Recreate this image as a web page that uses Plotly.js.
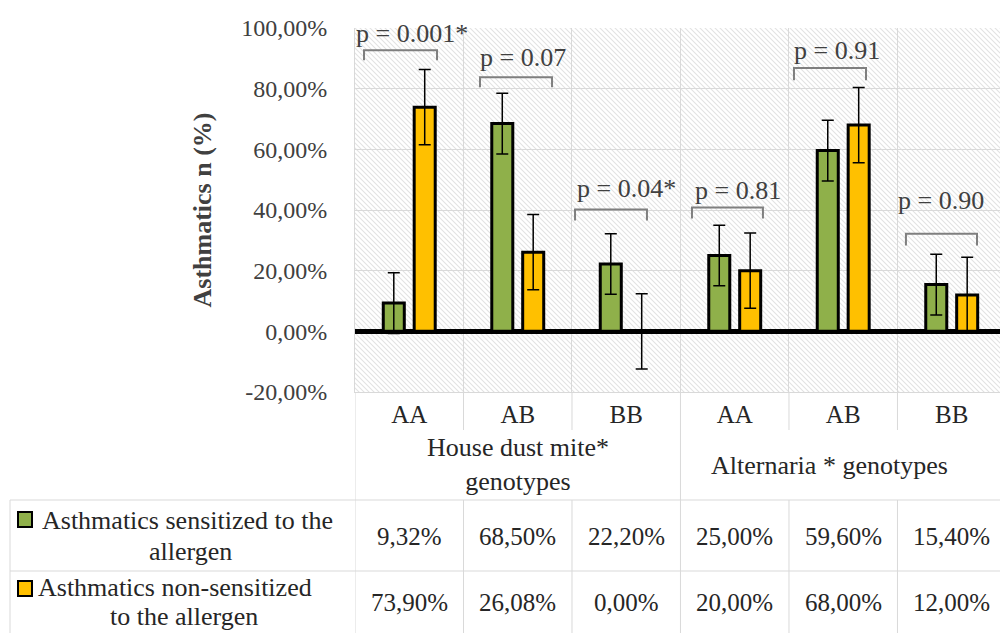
<!DOCTYPE html>
<html>
<head>
<meta charset="utf-8">
<script src="https://cdn.plot.ly/plotly-3.0.1.min.js"></script>
<style>
  html, body { margin: 0; padding: 0; background: #ffffff; }
  #chart { width: 1000px; height: 633px; }
</style>
</head>
<body>
<div id="chart"></div>
<script>
// ---------- data ----------
const genotypes = ['AA', 'AB', 'BB', 'AA', 'AB', 'BB'];
const groupLabels = ['House dust mite*<br>genotypes', 'Alternaria * genotypes'];
const seriesNames = ['Asthmatics sensitized to the<br>allergen', 'Asthmatics non-sensitized<br>to the allergen'];
const sensitized = [9.32, 68.50, 22.20, 25.00, 59.60, 15.40];
const nonSensitized = [73.90, 26.08, 0.00, 20.00, 68.00, 12.00];
const errSensitized = [10, 10, 10, 10, 10, 10];
const errNonSensitized = [12.4, 12.4, 12.4, 12.4, 12.4, 12.4];
const pValues = ['p = 0.001*', 'p = 0.07', 'p = 0.04*', 'p = 0.81', 'p = 0.91', 'p = 0.90'];
const yTicks = [-20, 0, 20, 40, 60, 80, 100];

// ---------- styling / layout constants ----------
const FONT = '"Liberation Serif", "Times New Roman", serif';
const GREEN = '#8FB04A';
const ORANGE = '#FFC000';
const GRID = '#d9d9d9';
const colors = [GREEN, ORANGE];

// bracket geometry: [left offset, right offset, top y, leg y] per category
const bracketGeom = [
  [-0.417, 0.256, 92.7, 89.4],
  [-0.348, 0.316, 83.8, 80.5],
  [-0.472, 0.191, 40.2, 36.5],
  [-0.394, 0.260, 40.8, 37.2],
  [-0.454, 0.210, 86.8, 82.8],
  [-0.422, 0.233, 32.2, 28.3]
];
// p-label centre: [x offset, y]
const pLabelPos = [
  [0.021, 98.3], [0.053, 90.4], [0.002, 47.1], [0.030, 46.4], [-0.058, 92.7], [-0.099, 43.1]
];

const idx = genotypes.map((_, i) => i);
const fmt = v => v.toFixed(2).replace('.', ',') + '%';

// background hatch as svg image
const hatchSvg =
  "<svg xmlns='http://www.w3.org/2000/svg' width='645' height='364'>" +
  "<defs><pattern id='h' width='5' height='5' patternUnits='userSpaceOnUse'>" +
  "<path d='M0,0 L5,5 M-1,4 L1,6 M4,-1 L6,1' stroke='#e2e2e2' stroke-width='1.1'/>" +
  "</pattern></defs><rect width='645' height='364' fill='#ffffff'/>" +
  "<rect width='645' height='364' fill='url(#h)'/></svg>";
const hatchUri = 'data:image/svg+xml;charset=utf-8,' + encodeURIComponent(hatchSvg);

const traces = [
  {
    type: 'bar', name: seriesNames[0], x: idx, y: sensitized,
    marker: { color: GREEN, line: { color: '#000000', width: 3 } },
    error_y: { type: 'data', array: errSensitized, visible: true, color: '#000000', thickness: 1.5, width: 6 },
    hoverinfo: 'y'
  },
  {
    type: 'bar', name: seriesNames[1], x: idx, y: nonSensitized,
    marker: { color: ORANGE, line: { color: '#000000', width: 3 } },
    error_y: { type: 'data', array: errNonSensitized, visible: true, color: '#000000', thickness: 1.5, width: 6 },
    hoverinfo: 'y'
  }
];

// layout geometry in paper fractions (plot area = paper 0..1)
const PX = px => (px - 355) / 645;      // page x -> paper x
const PY = py => (392 - py) / 364;      // page y -> paper y

const shapes = [];
const annotations = [];

// brackets and p-values
pValues.forEach((t, i) => {
  const g = bracketGeom[i];
  const x1 = i + g[0], x2 = i + g[1];
  shapes.push({
    type: 'path', xref: 'x', yref: 'y',
    path: `M ${x1},${g[3]} L ${x1},${g[2]} L ${x2},${g[2]} L ${x2},${g[3]}`,
    line: { color: '#7f7f7f', width: 2 }
  });
  annotations.push({
    xref: 'x', yref: 'y', x: i + pLabelPos[i][0], y: pLabelPos[i][1],
    text: t, showarrow: false, xanchor: 'center', yanchor: 'middle',
    font: { family: FONT, size: 26, color: '#404040' }
  });
});

// header dividers below the plot
[0.5, 1.5, 3.5, 4.5].forEach(b => shapes.push({
  type: 'line', xref: 'x', yref: 'paper', x0: b, x1: b, y0: 0, y1: PY(430),
  line: { color: GRID, width: 1 }
}));
[-0.5, 2.5].forEach(b => shapes.push({
  type: 'line', xref: 'x', yref: 'paper', x0: b, x1: b, y0: 0, y1: PY(500),
  line: { color: GRID, width: 1 }
}));
// table grid
[-0.5, 0.5, 1.5, 2.5, 3.5, 4.5].forEach(b => shapes.push({
  type: 'line', xref: 'x', yref: 'paper', x0: b, x1: b, y0: PY(500), y1: PY(640),
  line: { color: GRID, width: 1 }
}));
shapes.push({ type: 'line', xref: 'paper', yref: 'paper', x0: PX(10), x1: PX(10), y0: PY(500), y1: PY(640), line: { color: GRID, width: 1 } });
[500, 571].forEach(py => shapes.push({
  type: 'line', xref: 'paper', yref: 'paper', x0: PX(10), x1: 1, y0: PY(py), y1: PY(py),
  line: { color: GRID, width: 1 }
}));

// group labels
annotations.push({
  xref: 'x', yref: 'paper', x: 1, y: PY(464.5), text: groupLabels[0], showarrow: false,
  xanchor: 'center', yanchor: 'middle', align: 'center',
  font: { family: FONT, size: 26, color: '#262626' }
});
annotations.push({
  xref: 'x', yref: 'paper', x: 3.87, y: PY(465), text: groupLabels[1], showarrow: false,
  xanchor: 'center', yanchor: 'middle', align: 'center',
  font: { family: FONT, size: 26, color: '#262626' }
});

// data table rows
const rowCentres = [536, 602];
const line1Y = [520, 587];
const line2Y = [551, 616];
const line1X = [40, 36];
const line2X = [190, 184];
const keyY = [[512, 527], [581, 596]];
[sensitized, nonSensitized].forEach((series, r) => {
  series.forEach((v, i) => annotations.push({
    xref: 'x', yref: 'paper', x: i, y: PY(rowCentres[r]), text: fmt(v), showarrow: false,
    xanchor: 'center', yanchor: 'middle',
    font: { family: FONT, size: 25, color: '#262626' }
  }));
  const parts = seriesNames[r].split('<br>');
  annotations.push({
    xref: 'paper', yref: 'paper', x: PX(line1X[r]), y: PY(line1Y[r]),
    text: parts[0], showarrow: false, xanchor: 'left', yanchor: 'middle',
    font: { family: FONT, size: 26, color: '#262626' }
  });
  annotations.push({
    xref: 'paper', yref: 'paper', x: PX(line2X[r]), y: PY(line2Y[r]),
    text: parts[1], showarrow: false, xanchor: 'center', yanchor: 'middle',
    font: { family: FONT, size: 26, color: '#262626' }
  });
  shapes.push({
    type: 'rect', xref: 'paper', yref: 'paper', x0: PX(18), x1: PX(32), y0: PY(keyY[r][0]), y1: PY(keyY[r][1]),
    fillcolor: colors[r], line: { color: '#000000', width: 2 }
  });
});

const layout = {
  width: 1000, height: 633,
  margin: { l: 355, r: 0, t: 28, b: 241, pad: 0 },
  paper_bgcolor: '#ffffff', plot_bgcolor: '#ffffff',
  showlegend: false,
  barmode: 'group', bargap: 0.43, bargroupgap: 0.32,
  font: { family: FONT, color: '#262626' },
  images: [{
    source: hatchUri, xref: 'x domain', yref: 'y domain', x: 0, y: 1, sizex: 1, sizey: 1,
    xanchor: 'left', yanchor: 'top', sizing: 'stretch', layer: 'below'
  }],
  xaxis: {
    range: [-0.5, 5.445], tickmode: 'array', tickvals: idx, ticktext: genotypes,
    showgrid: false, zeroline: false, showline: true, linecolor: GRID, linewidth: 1,
    ticks: '', tickfont: { family: FONT, size: 25, color: '#262626' },
    minor: { tickmode: 'array', tickvals: [-0.5, 0.5, 1.5, 2.5, 3.5, 4.5, 5.5], showgrid: true, gridcolor: GRID, gridwidth: 1, ticks: '' },
    fixedrange: true
  },
  yaxis: {
    range: [-20, 100], tickmode: 'array', tickvals: yTicks, ticktext: yTicks.map(fmt),
    showgrid: true, gridcolor: GRID, gridwidth: 1,
    zeroline: true, zerolinecolor: '#000000', zerolinewidth: 5,
    showline: true, linecolor: GRID, linewidth: 1,
    ticks: '', ticklabelstandoff: 22,
    tickfont: { family: FONT, size: 24, color: '#404040' },
    title: { text: 'Asthmatics n (%)', standoff: 22, font: { family: FONT, size: 26, color: '#404040', weight: 'bold' } },
    fixedrange: true
  },
  shapes: shapes,
  annotations: annotations
};

Plotly.newPlot('chart', traces, layout, { displayModeBar: false, staticPlot: true });
</script>
</body>
</html>
